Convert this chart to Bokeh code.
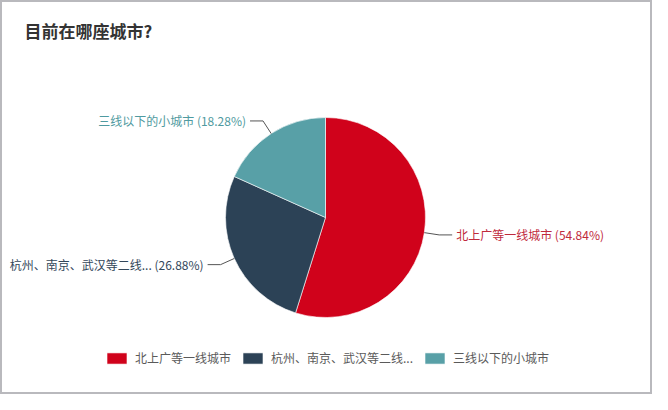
import math
from bokeh.plotting import figure
from bokeh.models import Range1d, Label, Legend, LegendItem
from bokeh.core.properties import value
from bokeh.embed import file_html
from bokeh.resources import INLINE

# ---- data ----
title_text = "目前在哪座城市?"
categories = ["北上广等一线城市", "杭州、南京、武汉等二线...", "三线以下的小城市"]
shares = [54.84, 26.88, 18.28]
colors = ["#d0021b", "#2c4256", "#58a0a7"]
label_colors = ["#bf2a3c", "#33475a", "#4f9aa0"]

FONT = "Noto Sans CJK SC"
W, H = 652, 394
cx, cy, R = 325, 177, 100

p = figure(width=W, height=H, output_backend="svg", toolbar_location=None,
           x_range=Range1d(0, W), y_range=Range1d(0, H), min_border=0)
p.axis.visible = False
p.grid.visible = False
p.background_fill_color = "white"
p.border_fill_color = "white"
p.outline_line_color = "#b9b9bd"
p.outline_line_width = 3

total = sum(shares)
start = math.pi / 2
items = []
for i, (cat, s) in enumerate(zip(categories, shares)):
    sweep = s / total * 2 * math.pi
    end = start - sweep
    r = p.wedge(x=cx, y=cy, radius=R, radius_units="screen", start_angle=end, end_angle=start,
                fill_color=colors[i], line_color="white", line_width=0.6)
    items.append(LegendItem(label=cat, renderers=[r]))
    mid = (start + end) / 2
    x0, y0 = cx + R * math.cos(mid), cy + R * math.sin(mid)
    rr = R + 15
    x1, y1 = cx + rr * math.cos(mid), cy + rr * math.sin(mid)
    side = 1 if math.cos(mid) >= 0 else -1
    x2 = x1 + side * 13
    p.line([x0, x1, x2], [y0, y1, y1], line_color="#555555", line_width=1)
    txt = f"{cat} ({s:.2f}%)"
    p.text(x=[x2 + side * 4], y=[y1], text=[txt], text_font=value(FONT), text_font_size="12px",
           text_color=label_colors[i], text_align="left" if side > 0 else "right",
           text_baseline="middle")
    start = end

p.add_layout(Label(x=24, y=364, text=title_text, text_font=FONT, text_font_size="17px",
                   text_font_style="bold", text_color="#333333", text_baseline="middle"))

legend = Legend(items=items, orientation="horizontal", location=(104, 28),
                glyph_width=25, glyph_height=14, label_height=14, label_standoff=6, spacing=9,
                padding=0, margin=0, border_line_color=None, background_fill_alpha=0,
                label_text_font=FONT, label_text_font_size="12px", label_text_color="#5a5a5a")
p.add_layout(legend, "center")

open("out.html", "w").write(file_html(p, INLINE))
